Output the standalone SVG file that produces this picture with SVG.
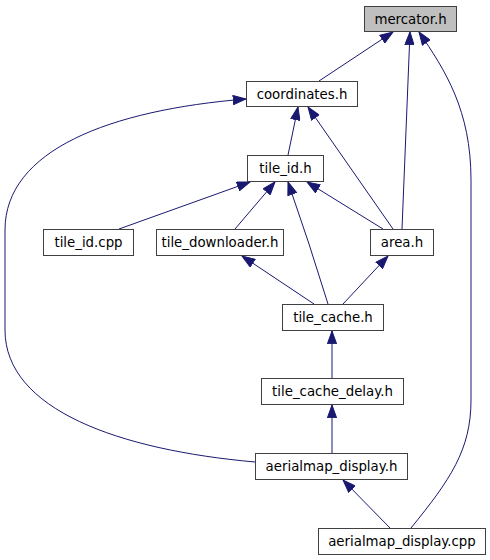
<svg xmlns="http://www.w3.org/2000/svg" width="490" height="560" viewBox="0 0 490 560">
<defs>
<style>
.n rect{fill:#ffffff;stroke:#404040;stroke-width:1}
.n.root rect{fill:#bfbfbf}
.n text{font-family:"DejaVu Sans","Liberation Sans",sans-serif;font-size:13.33px;fill:#000;text-anchor:middle}
.e path{fill:none;stroke:#191970;stroke-width:1;marker-end:url(#ah)}
</style>
<marker id="ah" markerUnits="userSpaceOnUse" viewBox="0 0 14 10" markerWidth="14" markerHeight="10" refX="13.3" refY="5" orient="auto">
<path d="M0.5,0.4 L13.3,5 L0.5,9.6 z" fill="#191970" stroke="#191970" stroke-width="1"/>
</marker>
</defs>
<rect width="490" height="560" fill="#ffffff"/>
<g id="edges" class="e">
<path d="M319,81 L393,32"/>
<path d="M402,229 L410,32"/>
<path d="M411,528 C450,480 471,450 471,400 L471,180 C471,110 445,70 419,32"/>
<path d="M255,462 C120,450 5,410 5,330 L5,230 C5,150 110,110 246,99"/>
<path d="M288,155 L298,107"/>
<path d="M393,229 L308,107"/>
<path d="M119,229 L250,182"/>
<path d="M235,229 L275,182"/>
<path d="M328,304 Q310,245 288,182"/>
<path d="M383,229 L307,182"/>
<path d="M314,304 L242,256"/>
<path d="M343,304 L388,256"/>
<path d="M332,378 L332,331"/>
<path d="M332,453 L332,405"/>
<path d="M390,528 L343,480"/>
</g>
<g id="mercator_h" class="n root"><rect x="364.5" y="6.5" width="92" height="25"/><text x="410.5" y="23.5">mercator.h</text></g>
<g id="coordinates_h" class="n"><rect x="246.5" y="81.5" width="111" height="25"/><text x="302" y="98.5">coordinates.h</text></g>
<g id="tile_id_h" class="n"><rect x="247.5" y="155.5" width="76" height="26"/><text x="285.5" y="173">tile_id.h</text></g>
<g id="tile_id_cpp" class="n"><rect x="43.5" y="229.5" width="90" height="26"/><text x="88.5" y="247">tile_id.cpp</text></g>
<g id="tile_downloader_h" class="n"><rect x="156.5" y="229.5" width="127" height="26"/><text x="220" y="247">tile_downloader.h</text></g>
<g id="area_h" class="n"><rect x="370.5" y="229.5" width="63" height="26"/><text x="402" y="247">area.h</text></g>
<g id="tile_cache_h" class="n"><rect x="282.5" y="304.5" width="101" height="26"/><text x="333" y="322">tile_cache.h</text></g>
<g id="tile_cache_delay_h" class="n"><rect x="261.5" y="378.5" width="142" height="26"/><text x="332.5" y="396">tile_cache_delay.h</text></g>
<g id="aerialmap_display_h" class="n"><rect x="255.5" y="453.5" width="152" height="26"/><text x="331.5" y="471">aerialmap_display.h</text></g>
<g id="aerialmap_display_cpp" class="n"><rect x="318.5" y="528.5" width="167" height="26"/><text x="402" y="546">aerialmap_display.cpp</text></g>
</svg>
